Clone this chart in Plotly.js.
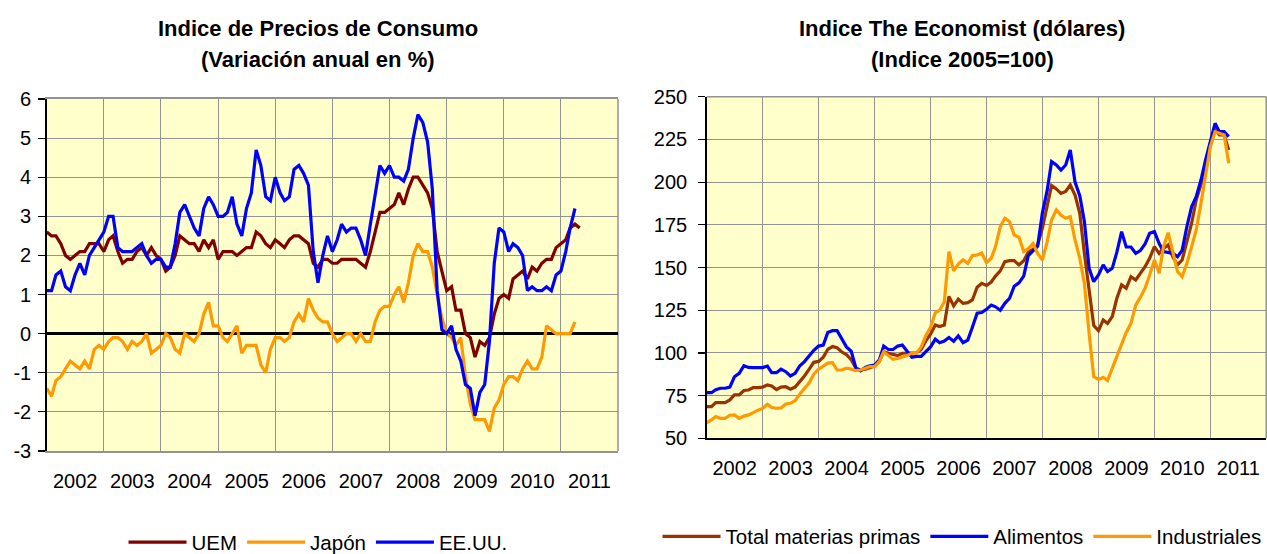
<!DOCTYPE html>
<html>
<head>
<meta charset="utf-8">
<script src="https://cdn.plot.ly/plotly-3.0.1.min.js"></script>
<style>html,body{margin:0;padding:0;background:#fff;}#chart{width:1267px;height:554px;}</style>
</head>
<body>
<div id="chart"></div>
<script>
// ---- Data: monthly, starting January 2002 ----
var startYear = 2002;
var yearLabels = ['2002','2003','2004','2005','2006','2007','2008','2009','2010','2011'];
var leftTickVals = [-3,-2,-1,0,1,2,3,4,5,6];
var leftTickText = ['-3','-2','-1','0','1','2','3','4','5','6'];
var rightTickVals = [50,75,100,125,150,175,200,225,250];
var rightTickText = ['50','75','100','125','150','175','200','225','250'];

// Left chart: Indice de Precios de Consumo (variación anual en %)
var uem = [
  2.6,2.5,2.5,2.3,2.0,1.9,2.0,2.1,2.1,2.3,2.3,2.3,
  2.1,2.4,2.5,2.1,1.8,1.9,1.9,2.1,2.2,2.0,2.2,2.0,
  1.9,1.6,1.7,2.0,2.5,2.4,2.3,2.3,2.1,2.4,2.2,2.4,
  1.9,2.1,2.1,2.1,2.0,2.1,2.2,2.2,2.6,2.5,2.3,2.2,
  2.4,2.3,2.2,2.4,2.5,2.5,2.4,2.3,1.8,1.7,1.9,1.9,
  1.8,1.8,1.9,1.9,1.9,1.9,1.8,1.7,2.1,2.6,3.1,3.1,
  3.2,3.3,3.6,3.3,3.7,4.0,4.0,3.8,3.6,3.2,2.1,1.6,
  1.1,1.2,0.6,0.6,0.0,-0.1,-0.6,-0.2,-0.3,-0.1,0.5,0.9,
  1.0,0.9,1.4,1.5,1.6,1.4,1.7,1.6,1.8,1.9,1.9,2.2,
  2.3,2.4,2.7,2.8,2.7
];
var japon = [
  -1.4,-1.6,-1.2,-1.1,-0.9,-0.7,-0.8,-0.9,-0.7,-0.9,-0.4,-0.3,
  -0.4,-0.2,-0.1,-0.1,-0.2,-0.4,-0.2,-0.3,-0.2,0.0,-0.5,-0.4,
  -0.3,0.0,-0.1,-0.4,-0.5,0.0,-0.1,-0.2,0.0,0.5,0.8,0.2,
  0.2,-0.1,-0.2,0.0,0.2,-0.5,-0.3,-0.3,-0.3,-0.8,-1.0,-0.4,
  -0.1,-0.1,-0.2,-0.1,0.3,0.5,0.3,0.9,0.6,0.4,0.3,0.3,
  0.0,-0.2,-0.1,0.0,0.0,-0.2,0.0,-0.2,-0.2,0.3,0.6,0.7,
  0.7,1.0,1.2,0.8,1.3,2.0,2.3,2.1,2.1,1.7,1.0,0.4,
  0.0,-0.1,-0.3,-0.1,-1.1,-1.8,-2.2,-2.2,-2.2,-2.5,-1.9,-1.7,
  -1.3,-1.1,-1.1,-1.2,-0.9,-0.7,-0.9,-0.9,-0.6,0.2,0.1,0.0,
  0.0,0.0,0.0,0.3
];
var eeuu = [
  1.1,1.1,1.5,1.6,1.2,1.1,1.5,1.8,1.5,2.0,2.2,2.4,
  2.6,3.0,3.0,2.2,2.1,2.1,2.1,2.2,2.3,2.0,1.8,1.9,
  1.9,1.7,1.7,2.3,3.1,3.3,3.0,2.7,2.5,3.2,3.5,3.3,
  3.0,3.0,3.1,3.5,2.8,2.5,3.2,3.6,4.7,4.3,3.5,3.4,
  4.0,3.6,3.4,3.5,4.2,4.3,4.1,3.8,2.1,1.3,2.0,2.5,
  2.1,2.4,2.8,2.6,2.7,2.7,2.4,2.0,2.8,3.5,4.3,4.1,
  4.3,4.0,4.0,3.9,4.2,5.0,5.6,5.4,4.9,3.7,1.1,0.1,
  0.0,0.2,-0.4,-0.7,-1.3,-1.4,-2.1,-1.5,-1.3,-0.2,1.8,2.7,
  2.6,2.1,2.3,2.2,2.0,1.1,1.2,1.1,1.1,1.2,1.1,1.5,
  1.6,2.1,2.7,3.2
];

// Right chart: Indice The Economist (dólares), 2005=100
var totalMP = [
  68.5,68.5,70.9,70.9,70.9,72.5,75.4,75.4,78,78.3,79.7,79.7,
  80,81.2,80.6,78.5,80,80.2,78.8,80,83,86.5,90.5,94.5,
  95,97.5,102,103.7,103,100.5,99,96,91,90,90.4,91.5,
  92.3,95,100.7,99.8,99,98.4,99.8,99.8,99.8,100.1,102,107,
  111,116.3,115.4,116.3,133,127.5,131.5,129,129.4,131,138.4,140.7,
  139.5,141.5,145,148,153.4,154,154,151.5,154,159,160.6,163.2,
  173,185,198,196,193.4,194.5,198.3,192.4,181.7,158.3,136.8,116,
  113,119.3,117.3,121.2,132,139.8,137.8,144.6,142.7,146.2,150.5,155.4,
  162.2,158.3,161.2,163.2,156.3,151.5,154.4,165.1,175.9,189.5,199.3,207.1,
  222.7,230.5,227.6,227.6,218.8
];
var alimentos = [
  76.7,76.7,78.5,79.3,79.3,80,86,88,92.5,91.5,91.4,91.4,
  91.4,92.3,88.4,88.4,90.5,89,86.5,88,92.5,94.9,98.5,101.5,
  104,104.6,112,113,113,108.5,103.5,101,91,89.5,91.5,92.5,
  92.9,95.9,104,102,102,104,104.6,101,97.5,98,98,100.7,
  103.5,108,106,107,109,106.8,110,106,107.5,115,123.2,123.6,
  125.5,128,127,125,129,132,139,141,145,157,159.5,162.5,
  182,195,212,210,207,210,218.8,200,192,177,149.5,141.7,
  145.6,151.5,147.6,149.5,159,171,162,162,158.3,159.9,163.8,170,
  171,164,159.3,159,158.3,156.3,160,174,185.6,191.5,201.2,213,
  224.6,234.4,229.5,229.5,226.6
];
var industriales = [
  59.2,60.7,62.7,61.7,61.7,63.5,63.7,61.7,63,63.7,65,66.5,
  67.5,69.9,68,67.6,67.8,70.1,70.5,72,76,79,82.5,87.5,
  90.5,92.3,94,94.3,90,90,91,90.5,89.6,90,91,92,
  92,95,100.7,98.5,96.2,96.7,97.5,98.5,99.8,100,103.5,110,
  115,123.5,125,130,159.3,148,152,154.5,152.4,157,157.3,158.5,
  152.8,155.4,162.2,174,178.8,176.8,169,167.7,159.3,161,164,158.3,
  154.4,165,177.8,183.7,180.7,178.8,179.8,166.1,155.4,140.7,111.5,86.1,
  84.5,85.7,83.8,91,97.8,106,112,117.3,128,132.5,137.8,145.6,
  154.4,146.6,162.2,170.4,158.3,147.6,144.6,152.4,162.2,172,187.6,205.1,
  220.7,229.5,228.5,227.6,211
];

function monthDates(n) {
  var out = [];
  for (var i = 0; i < n; i++) {
    var y = startYear + Math.floor(i / 12);
    var m = (i % 12) + 1;
    out.push(y + '-' + (m < 10 ? '0' + m : m) + '-01');
  }
  return out;
}

var FONT = 'Liberation Sans, Arial, sans-serif';
var GRID = '#939393';

function tr(name, vals, color, xa, ya, lg) {
  return {
    type: 'scatter', mode: 'lines', name: name,
    x: monthDates(vals.length), y: vals,
    xaxis: xa, yaxis: ya, legend: lg,
    line: {color: color, width: 3.2},
    hoverinfo: 'skip'
  };
}

var traces = [
  tr('UEM', uem, '#800000', 'x', 'y', 'legend'),
  tr('Japón', japon, '#FF9900', 'x', 'y', 'legend'),
  tr('EE.UU.', eeuu, '#0000FF', 'x', 'y', 'legend'),
  tr('Total materias primas', totalMP, '#993300', 'x2', 'y2', 'legend2'),
  tr('Alimentos', alimentos, '#0000FF', 'x2', 'y2', 'legend2'),
  tr('Industriales', industriales, '#FF9900', 'x2', 'y2', 'legend2')
];

function xAxis(domain, anchor, lineColor, mirror) {
  return {
    domain: domain, anchor: anchor, type: 'date',
    range: [startYear + '-01-01', (startYear + yearLabels.length) + '-01-01'],
    tick0: startYear + '-01-01', dtick: 'M12', tickformat: '%Y',
    ticklabelmode: 'period', ticks: '',
    showgrid: true, gridcolor: GRID, gridwidth: 1,
    showline: true, linecolor: lineColor, linewidth: 1.5, mirror: mirror,
    zeroline: false, fixedrange: true,
    tickfont: {family: FONT, size: 20, color: '#000'},
    ticklabelstandoff: 11
  };
}
function yAxis(domain, anchor, range, vals, text, standoff) {
  return {
    domain: domain, anchor: anchor, range: range,
    tickmode: 'array', tickvals: vals, ticktext: text,
    showgrid: true, gridcolor: GRID, gridwidth: 1,
    showline: true, linecolor: '#000', linewidth: 1.5,
    ticks: 'outside', ticklen: 7, tickwidth: 1.2, tickcolor: '#000',
    tickfont: {family: FONT, size: 20, color: '#000'},
    ticklabelstandoff: standoff, fixedrange: true
  };
}

var yl = yAxis([0.18592, 0.82130], 'x', [-3, 6], leftTickVals, leftTickText, 3);
yl.zeroline = true; yl.zerolinecolor = '#000'; yl.zerolinewidth = 3;
var yr = yAxis([0.20884, 0.82545], 'x2', [50, 250], rightTickVals, rightTickText, 7);
yr.zeroline = false;

var legendFont = {family: FONT, size: 20.5, color: '#000'};

var layout = {
  width: 1267, height: 554,
  margin: {l: 0, r: 0, t: 0, b: 0, autoexpand: false},
  paper_bgcolor: '#FFFFFF', plot_bgcolor: '#FFFFCC',
  font: {family: FONT, color: '#000'},
  showlegend: true,
  xaxis: xAxis([0.03686, 0.48777], 'y', GRID, true),
  yaxis: yl,
  xaxis2: xAxis([0.55778, 0.9994], 'y2', '#000', false),
  yaxis2: yr,
  legend: {
    orientation: 'h', x: 0.251, xanchor: 'center', y: 0.0212, yanchor: 'middle',
    font: legendFont, bgcolor: 'rgba(0,0,0,0)',
    itemwidth: 58, tracegroupgap: 0, itemclick: false, itemdoubleclick: false
  },
  legend2: {
    orientation: 'h', x: 0.7593, xanchor: 'center', y: 0.0316, yanchor: 'middle',
    font: legendFont, bgcolor: 'rgba(0,0,0,0)',
    itemwidth: 58, tracegroupgap: 0, itemclick: false, itemdoubleclick: false
  },
  shapes: [
    {type: 'line', xref: 'x domain', yref: 'y domain', x0: 1, x1: 1, y0: 0, y1: 1,
     line: {color: GRID, width: 1.5}, layer: 'below'},
    {type: 'line', xref: 'x2 domain', yref: 'y2 domain', x0: 1, x1: 1, y0: 0, y1: 1,
     line: {color: GRID, width: 1.5}, layer: 'below'},
    {type: 'line', xref: 'x2 domain', yref: 'y2 domain', x0: 0, x1: 1, y0: 1, y1: 1,
     line: {color: GRID, width: 1.5}, layer: 'below'}
  ],
  annotations: [
    {text: '<b>Indice de Precios de Consumo</b>', xref: 'paper', yref: 'paper',
     x: 0.251, y: 0.9477, xanchor: 'center', yanchor: 'middle', showarrow: false,
     font: {family: FONT, size: 22, color: '#000'}},
    {text: '<b>(Variación anual en %)</b>', xref: 'paper', yref: 'paper',
     x: 0.251, y: 0.8935, xanchor: 'center', yanchor: 'middle', showarrow: false,
     font: {family: FONT, size: 22, color: '#000'}},
    {text: '<b>Indice The Economist (dólares)</b>', xref: 'paper', yref: 'paper',
     x: 0.7593, y: 0.9477, xanchor: 'center', yanchor: 'middle', showarrow: false,
     font: {family: FONT, size: 22, color: '#000'}},
    {text: '<b>(Indice 2005=100)</b>', xref: 'paper', yref: 'paper',
     x: 0.7593, y: 0.8935, xanchor: 'center', yanchor: 'middle', showarrow: false,
     font: {family: FONT, size: 22, color: '#000'}}
  ]
};

Plotly.newPlot('chart', traces, layout, {displayModeBar: false, staticPlot: true});
</script>
</body>
</html>
